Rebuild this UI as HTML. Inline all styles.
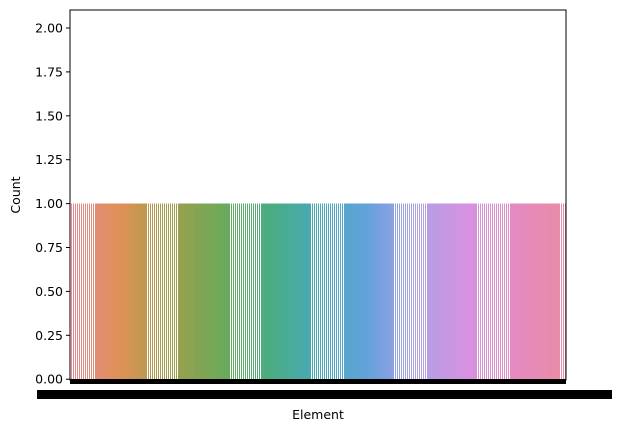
<!DOCTYPE html>
<html><head><meta charset="utf-8"><style>
html,body{margin:0;padding:0;background:#fff;}
svg{display:block;font-family:"DejaVu Sans","Liberation Sans",sans-serif;}
</style></head><body>
<svg id="chart" width="622" height="432" viewBox="0 0 622 432">
<g id="bars"></g>
<g id="axes"></g>
</svg>
<script>
const N = 245;
const categories = Array.from({length: N}, (_, i) => 'E' + (i + 1));
const counts = categories.map(() => 1);
const yTicks = [0, 0.25, 0.5, 0.75, 1.0, 1.25, 1.5, 1.75, 2.0];
const yTickLabels = ['0.00','0.25','0.50','0.75','1.00','1.25','1.50','1.75','2.00'];

const L = 70, R = 566, T = 10, B = 380;
const y0px = 379.2, pxPerUnit = 175.6;
function yScale(v){ return y0px - v * pxPerUnit; }
const slot = (R - L) / N;
const phase = 0.385;
function xScale(i){ return L + phase + i * slot; }

const stops = [[232,136,146],[222,145,85],[160,158,78],[110,170,88],[75,172,130],[72,170,185],[100,162,220],[175,160,230],[214,146,225],[229,138,192],[232,140,165]];
function colorAt(t){
  const p = t * (stops.length - 1), i = Math.min(Math.floor(p), stops.length - 2), f = p - i;
  const a = stops[i], b = stops[i+1];
  return 'rgb(' + a.map((v,k)=>Math.round(v + (b[k]-v)*f)).join(',') + ')';
}
const NS = 'http://www.w3.org/2000/svg';
function mk(tag, attrs, parent){ const e = document.createElementNS(NS, tag); for (const k in attrs) e.setAttribute(k, attrs[k]); parent.appendChild(e); return e; }

const bars = document.getElementById('bars');
categories.forEach((c, i) => {
  const x1 = Math.max(L, Math.round(xScale(i) + slot*0.1)), x2 = Math.min(R, Math.round(xScale(i) + slot*0.9));
  if (x2 <= x1) return;
  const yt = yScale(counts[i]);
  const r = mk('rect', {x: x1, y: yt, width: x2 - x1, height: y0px - yt, fill: colorAt(i/(N-1)), 'shape-rendering':'crispEdges'}, bars);
  
  
});

const axes = document.getElementById('axes');
mk('rect', {x: L, y: T, width: R - L, height: B - T, fill: 'none', stroke: '#000', 'stroke-width': 1}, axes);
yTicks.forEach((v, i) => {
  const y = yScale(v);
  mk('line', {x1: L - 4, x2: L, y1: y, y2: y, stroke: '#000'}, axes);
  const t = mk('text', {x: L - 7, y: y + 4.5, 'text-anchor': 'end', 'font-size': 12.5, fill: '#000'}, axes);
  t.textContent = yTickLabels[i];
  
  
});
const xt = mk('rect', {x: L, y: 379, width: R - L, height: 5, fill: '#000'}, axes);


const xl = mk('rect', {x: 37, y: 390, width: 575, height: 9, fill: '#000'}, axes);


const xtitle = mk('text', {x: 318, y: 419, 'text-anchor': 'middle', 'font-size': 12.5, fill: '#000'}, axes);
xtitle.textContent = 'Element';


const ytitle = mk('text', {x: 20, y: 195, 'text-anchor': 'middle', 'font-size': 12.5, fill: '#000', transform: 'rotate(-90 20 195)'}, axes);
ytitle.textContent = 'Count';


</script>
</body></html>
